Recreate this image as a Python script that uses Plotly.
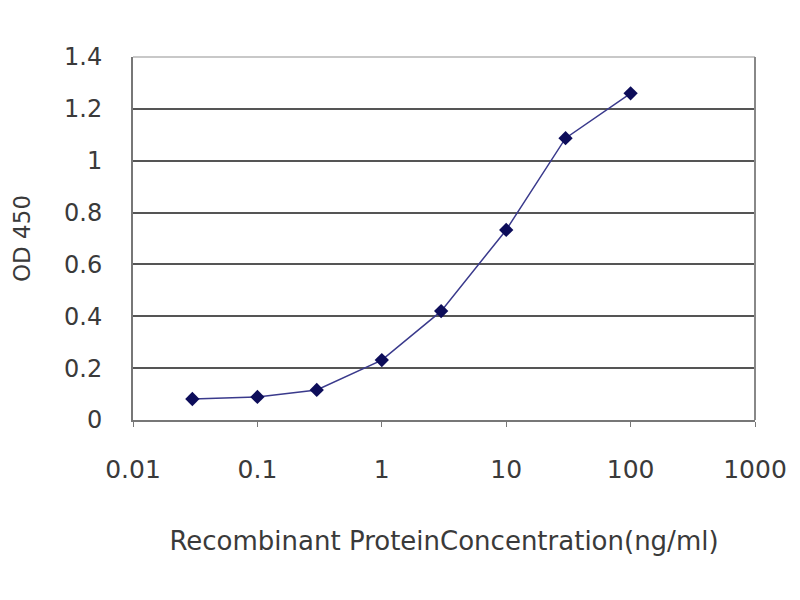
import plotly.graph_objects as go

# concentration (ng/ml) vs OD450
conc = [0.03, 0.1, 0.3, 1, 3, 10, 30, 100]
od450 = [0.081, 0.089, 0.116, 0.231, 0.42, 0.733, 1.087, 1.26]

x_ticks = [0.01, 0.1, 1, 10, 100, 1000]
x_tick_labels = ["0.01", "0.1", "1", "10", "100", "1000"]
y_ticks = [0, 0.2, 0.4, 0.6, 0.8, 1, 1.2, 1.4]
y_tick_labels = ["0", "0.2", "0.4", "0.6", "0.8", "1", "1.2", "1.4"]

fig = go.Figure(
    go.Scatter(
        x=conc,
        y=od450,
        mode="lines+markers",
        line=dict(color="#3a3a8c", width=1.5),
        marker=dict(symbol="diamond", size=11, color="#0d0d5a"),
        showlegend=False,
    )
)

# page body has an 8px margin, so offsets are shifted by that
fig.update_layout(
    width=800,
    height=600,
    margin=dict(l=125, r=53, t=49, b=188),
    paper_bgcolor="white",
    plot_bgcolor="white",
    font=dict(family="DejaVu Sans", color="#3a3a3a", size=24),
)

fig.update_xaxes(
    type="log",
    range=[-2, 3],
    tickvals=x_ticks,
    ticktext=x_tick_labels,
    tickfont=dict(size=25),
    showgrid=False,
    showline=True,
    linecolor="#777777",
    linewidth=2,
    ticks="outside",
    ticklen=5,
    tickcolor="#777777",
    ticklabelstandoff=21,
    automargin=False,
    title=dict(text="Recombinant ProteinConcentration(ng/ml)", font=dict(size=26), standoff=49),
    zeroline=False,
)

fig.update_yaxes(
    range=[0, 1.4],
    tickvals=y_ticks,
    ticktext=y_tick_labels,
    tickfont=dict(size=24),
    showgrid=True,
    gridcolor="#555555",
    gridwidth=2,
    showline=True,
    linecolor="#777777",
    linewidth=2,
    ticks="",
    ticklabelstandoff=24,
    automargin=False,
    title=dict(text="OD 450", font=dict(size=23), standoff=27),
    zeroline=False,
)

# light frame on top and right like the original
fig.add_shape(type="line", xref="paper", yref="paper", x0=0, x1=1, y0=1, y1=1,
              line=dict(color="#c8c8c8", width=2))
fig.add_shape(type="line", xref="paper", yref="paper", x0=1, x1=1, y0=0, y1=1,
              line=dict(color="#888888", width=2))

fig.write_html("out.html")
